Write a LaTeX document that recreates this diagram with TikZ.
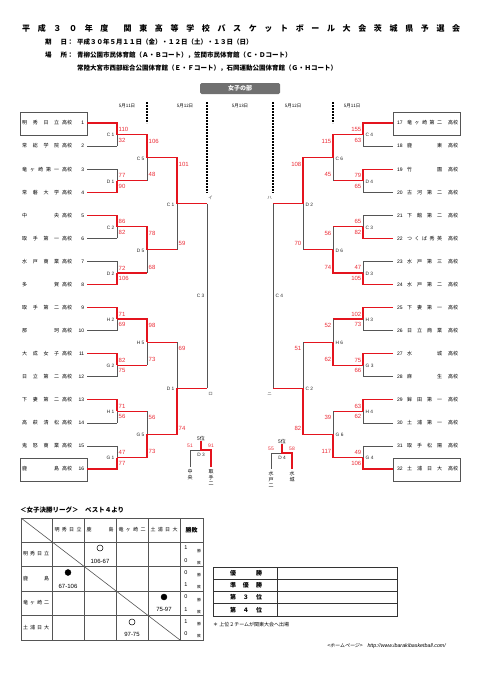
\documentclass[tikz,border=0pt]{standalone}
\usepackage{fontspec}
\setmainfont{Noto Sans CJK JP}
\newfontfamily\numfont{Liberation Sans}
\newfontfamily\slantjp[FakeSlant=0.2]{Noto Sans CJK JP}
\usetikzlibrary{calc}
\definecolor{winred}{RGB}{228,20,30}
\definecolor{scorered}{RGB}{236,45,55}
\definecolor{linegray}{RGB}{85,85,85}
\definecolor{bannergray}{RGB}{112,112,112}

\newcommand\bmatch[9]{%
  \ifnum#4=1
    \draw[#9] (#2) -- (#2 -| #3);
    \draw[lose] (#2 -| #3) -- (#3);
    \draw[win] (#1) -| (#3);
  \else
    \draw[#9] (#1) -- (#1 -| #3);
    \draw[lose] (#1 -| #3) -- (#3);
    \draw[win] (#2) -| (#3);
  \fi
  \ifnum#8>0 \def\sanc{west}\def\lanc{east}\else\def\sanc{east}\def\lanc{west}\fi
  \node[score,anchor=\sanc] (#3a) at ($(#3 |- #1)+(#8*1.2,6.5)$) {#5};
  \node[score,anchor=\sanc] (#3b) at ($(#3 |- #2)+(#8*1.2,-6)$) {#6};
  \node[game,anchor=\lanc] (#3g) at ($(#3)+(#8*-2,0.8)$) {#7};
}

\begin{document}
\begin{tikzpicture}[x=1pt,y=-1pt,
  win/.style={draw=winred,line width=1.2pt},
  lose/.style={draw=linegray,line width=0.6pt},
  score/.style={text=scorered,inner sep=0.3pt,font=\numfont\fontsize{6}{6}\selectfont},
  game/.style={text=black!85,inner sep=0.5pt,font=\numfont\fontsize{4.8}{5}\selectfont},
  team/.style={anchor=west,inner sep=0pt,font=\fontsize{5}{6}\selectfont},
  hdr/.style={anchor=west,inner sep=0pt,font=\bfseries\fontsize{6.5}{7}\selectfont},
  datelab/.style={inner sep=0pt,font=\fontsize{4.5}{5}\selectfont},
  daydash/.style={draw=black,line width=1.1pt,dash pattern=on 2pt off 1pt},
  boxline/.style={draw=linegray,line width=0.7pt},
  kana/.style={inner sep=0pt,text=black!70,font=\fontsize{4.5}{5}\selectfont},
  vlab/.style={anchor=north,inner sep=0pt,align=center,font=\fontsize{5}{6}\selectfont},
  cell/.style={inner sep=0pt,font=\fontsize{5}{6}\selectfont},
  grid/.style={draw=linegray,line width=0.6pt},
  rank/.style={draw=black!80,line width=0.9pt},
  rlab/.style={inner sep=0pt,font=\bfseries\fontsize{6}{7}\selectfont}]
\useasboundingbox (0,0) rectangle (481,680);
\fill[white] (0,0) rectangle (481,680);

\node[anchor=west,inner sep=0pt,font=\bfseries\fontsize{8}{9}\selectfont] (title) at (22,28)
  {\makebox[438pt][s]{平 成 ３ ０ 年 度\ \ 関 東 高 等 学 校 バ ス ケ ッ ト ボ ー ル 大 会 茨 城 県 予 選 会}};
\node[hdr] (dlab) at (45,42) {\makebox[22pt][s]{期 日}：};
\node[hdr] (dtxt) at (77,42) {平成３０年５月１１日（金）・１２日（土）・１３日（日）};
\node[hdr] (plab) at (45,55) {\makebox[22pt][s]{場 所}：};
\node[hdr] (ptxt) at (77,55) {青柳公園市民体育館（Ａ・Ｂコート），笠間市民体育館（Ｃ・Ｄコート）};
\node[hdr] (ptxt2) at (77,68) {常陸大宮市西部総合公園体育館（Ｅ・Ｆコート），石岡運動公園体育館（Ｇ・Ｈコート）};

\node[fill=bannergray,rounded corners=1.5pt,minimum width=80pt,minimum height=11pt,inner sep=0pt,
  text=white,font=\bfseries\fontsize{6}{7}\selectfont] (banner) at (240,88.5) {女子の部};
\foreach \x/\d [count=\n] in {127/11,185/12,240/13,293/12,352/11}
  \node[datelab] (day\n) at (\x,106) {5月\d{}日};
\draw[daydash] (147,102) -- (147,123);
\draw[daydash] (207,102) -- (207,193);
\draw[daydash] (273,102) -- (273,193);
\draw[daydash] (333,102) -- (333,123);

\draw[boxline] (20,112) rectangle (87,135);
\draw[boxline] (20,458) rectangle (87,481);
\draw[boxline] (393,112) rectangle (460,135);
\draw[boxline] (393,458) rectangle (460,481);

\foreach \k/\nm in {1/明 秀 日 立,2/常 総 学 院,3/竜 ヶ 崎 第 一,4/常 磐 大 学,5/中 央,6/取 手 第 一,
  7/水 戸 商 業,8/多 賀,9/取 手 第 二,10/那 珂,11/大 成 女 子,12/日 立 第 二,13/下 妻 第 二,
  14/高 萩 清 松,15/鬼 怒 商 業,16/鹿 島}
  \node[team] (lt\k) at (22,{123+(\k-1)*23.07})
    {\makebox[37pt][s]{\nm}\hspace{3pt}高校\makebox[12pt][r]{\numfont\k}};
\foreach \k/\nm [evaluate=\k as \n using int(\k+16)] in {1/竜 ヶ 崎 第 二,2/鹿 東,3/竹 園,4/古 河 第 二,
  5/下 館 第 二,6/つ く ば 秀 英,7/水 戸 第 三,8/水 戸 第 二,9/下 妻 第 一,10/日 立 商 業,11/水 城,
  12/麻 生,13/鉾 田 第 一,14/土 浦 第 一,15/取 手 松 陽,16/土 浦 日 大}
  \node[team] (rt\k) at (397,{123+(\k-1)*23.07})
    {\makebox[8pt][l]{\numfont\n}\hspace{2pt}\makebox[35pt][s]{\nm}\hspace{6pt}高校};

\foreach \k in {1,...,16} {
  \coordinate (L\k) at (87,{123+(\k-1)*23.07});
  \coordinate (R\k) at (393,{123+(\k-1)*23.07});
}
\foreach \i [evaluate=\i as \ua using int(2*\i-1), evaluate=\i as \ub using int(2*\i)] in {1,...,8} {
  \path ($(L\ua)!.5!(L\ub)$) ++(30,0) coordinate (La\i);
  \path ($(R\ua)!.5!(R\ub)$) ++(-30,0) coordinate (Ra\i);
}
\foreach \i [evaluate=\i as \ua using int(2*\i-1), evaluate=\i as \ub using int(2*\i)] in {1,...,4} {
  \path ($(La\ua)!.5!(La\ub)$) ++(30,0) coordinate (Lb\i);
  \path ($(Ra\ua)!.5!(Ra\ub)$) ++(-30,0) coordinate (Rb\i);
}
\foreach \i [evaluate=\i as \ua using int(2*\i-1), evaluate=\i as \ub using int(2*\i)] in {1,2} {
  \path ($(Lb\ua)!.5!(Lb\ub)$) ++(30,0) coordinate (Lc\i);
  \path ($(Rb\ua)!.5!(Rb\ub)$) ++(-30,0) coordinate (Rc\i);
}
\path ($(Lc1)!.5!(Lc2)$) ++(30,0) coordinate (Ld);
\path ($(Rc1)!.5!(Rc2)$) ++(-30,0) coordinate (Rd);

\foreach \i/\w/\sa/\sb/\g [evaluate=\i as \ua using int(2*\i-1), evaluate=\i as \ub using int(2*\i)] in
  {1/1/110/32/C 1,2/2/77/90/D 1,3/1/86/82/C 2,4/2/72/106/D 2,5/1/71/69/H 2,6/1/82/75/G 2,7/1/71/56/H 1,8/2/47/77/G 1}
  {\bmatch{L\ua}{L\ub}{La\i}{\w}{\sa}{\sb}{\g}{1}{lose}}
\foreach \i/\w/\sa/\sb/\g [evaluate=\i as \ua using int(2*\i-1), evaluate=\i as \ub using int(2*\i)] in
  {1/1/106/48/C 5,2/1/78/68/D 5,3/1/98/73/H 5,4/2/56/73/G 5}
  {\bmatch{La\ua}{La\ub}{Lb\i}{\w}{\sa}{\sb}{\g}{1}{win}}
\foreach \i/\w/\sa/\sb/\g [evaluate=\i as \ua using int(2*\i-1), evaluate=\i as \ub using int(2*\i)] in
  {1/1/101/59/C 1,2/2/69/74/D 1}
  {\bmatch{Lb\ua}{Lb\ub}{Lc\i}{\w}{\sa}{\sb}{\g}{1}{win}}

\foreach \i/\w/\sa/\sb/\g [evaluate=\i as \ua using int(2*\i-1), evaluate=\i as \ub using int(2*\i)] in
  {1/1/155/63/C 4,2/1/79/65/D 4,3/2/65/82/C 3,4/2/47/105/D 3,5/1/102/73/H 3,6/1/75/66/G 3,7/1/63/62/H 4,8/2/49/106/G 4}
  {\bmatch{R\ua}{R\ub}{Ra\i}{\w}{\sa}{\sb}{\g}{-1}{lose}}
\foreach \i/\w/\sa/\sb/\g [evaluate=\i as \ua using int(2*\i-1), evaluate=\i as \ub using int(2*\i)] in
  {1/1/115/45/C 6,2/2/56/74/D 6,3/2/52/62/H 6,4/2/39/117/G 6}
  {\bmatch{Ra\ua}{Ra\ub}{Rb\i}{\w}{\sa}{\sb}{\g}{-1}{win}}
\foreach \i/\w/\sa/\sb/\g [evaluate=\i as \ua using int(2*\i-1), evaluate=\i as \ub using int(2*\i)] in
  {1/1/108/70/D 2,2/2/51/82/C 2}
  {\bmatch{Rb\ua}{Rb\ub}{Rc\i}{\w}{\sa}{\sb}{\g}{-1}{win}}

\draw[lose] (Lc1 -| Ld) -- (Lc2 -| Ld);
\draw[win] (Lc1) -- (Lc1 -| Ld);
\draw[win] (Lc2) -- (Lc2 -| Ld);
\node[game,anchor=east] (Ldg) at ($(Ld)+(-2,0)$) {C 3};
\node[kana] (Lk1) at ($(Lc1 -| Ld)+(3.5,-6)$) {イ};
\node[kana] (Lk2) at ($(Lc2 -| Ld)+(3.5,6)$) {ロ};
\draw[lose] (Rc1 -| Rd) -- (Rc2 -| Rd);
\draw[win] (Rc1) -- (Rc1 -| Rd);
\draw[win] (Rc2) -- (Rc2 -| Rd);
\node[game,anchor=west] (Rdg) at ($(Rd)+(2,0)$) {C 4};
\node[kana] (Rk1) at ($(Rc1 -| Rd)+(-3.5,-6)$) {ハ};
\node[kana] (Rk2) at ($(Rc2 -| Rd)+(-3.5,6)$) {ニ};

\node[cell] (p5L) at (201,439) {5位};
\coordinate (p5Lc) at (201,450);
\coordinate (p5La) at (190,467);
\coordinate (p5Lb) at (211,467);
\draw[lose] (p5La) |- (p5Lc);
\draw[win] (p5Lb) |- (p5Lc) -- (p5L);
\node[score,font=\numfont\fontsize{5}{5}\selectfont] (p5Ls1) at (190,446) {51};
\node[score,font=\numfont\fontsize{5}{5}\selectfont] (p5Ls2) at (211,446) {91};
\node[game] (p5Lg) at (201,455) {D 3};
\node[vlab] (p5Ln1) at (190,469) {中\\央};
\node[vlab] (p5Ln2) at (211,469) {取\\手\\二};

\node[cell] (p5R) at (282,442) {5位};
\coordinate (p5Rc) at (282,453);
\coordinate (p5Ra) at (271,469);
\coordinate (p5Rb) at (292,469);
\draw[lose] (p5Ra) |- (p5Rc);
\draw[win] (p5Rb) |- (p5Rc) -- (p5R);
\node[score,font=\numfont\fontsize{5}{5}\selectfont] (p5Rs1) at (271,449) {55};
\node[score,font=\numfont\fontsize{5}{5}\selectfont] (p5Rs2) at (292,449) {58};
\node[game] (p5Rg) at (282,458) {D 4};
\node[vlab] (p5Rn1) at (271,471) {水\\戸\\二};
\node[vlab] (p5Rn2) at (292,471) {水\\城};

\node[hdr] (lgtitle) at (20,510) {＜女子決勝リーグ＞　ベスト４より};
\draw[grid] (21,518) rectangle (203,640);
\foreach \x in {52,84,116,148,180} \draw[grid] (\x,518) -- (\x,640);
\foreach \y in {542,566.5,591,615.5} \draw[grid] (21,\y) -- (203,\y);
\draw[grid] (21,518) -- (180,640);
\foreach \x/\nm [count=\n] in {68/明 秀 日 立,100/鹿 島,132/竜 ヶ 崎 二,164/土 浦 日 大}
  \node[cell] (colh\n) at (\x,530) {\makebox[27pt][s]{\nm}};
\foreach \y/\nm [count=\n] in {554/明 秀 日 立,578.5/鹿 島,603/竜 ヶ 崎 二,628/土 浦 日 大}
  \node[cell,anchor=west] (rowh\n) at (23,\y) {\makebox[26pt][s]{\nm}};
\node[rlab] (wlh) at (191.5,530) {勝敗};
\foreach \y/\w/\l [count=\n] in {542/1/0,566.5/0/1,591/0/1,615.5/1/0} {
  \node[cell,font=\numfont\fontsize{5.5}{6}\selectfont] (wn\n) at (186,{\y+6}) {\w};
  \node[cell,font=\fontsize{3.8}{4}\selectfont] (ws\n) at (199,{\y+9}) {勝};
  \node[cell,font=\numfont\fontsize{5.5}{6}\selectfont] (ln\n) at (186,{\y+18.5}) {\l};
  \node[cell,font=\fontsize{3.8}{4}\selectfont] (ls\n) at (199,{\y+21}) {敗};
}
\node[circle,draw,minimum size=6pt,inner sep=0pt,line width=0.5pt] (m12) at (100,548) {};
\node[cell,font=\numfont\fontsize{6}{6}\selectfont] (m12s) at (100,561) {106-67};
\node[circle,draw,fill=black,minimum size=6pt,inner sep=0pt] (m21) at (68,572.5) {};
\node[cell,font=\numfont\fontsize{6}{6}\selectfont] (m21s) at (68,586) {67-106};
\node[circle,draw,fill=black,minimum size=6pt,inner sep=0pt] (m34) at (164,597) {};
\node[cell,font=\numfont\fontsize{6}{6}\selectfont] (m34s) at (164,609.5) {75-97};
\node[circle,draw,minimum size=6pt,inner sep=0pt,line width=0.5pt] (m43) at (132,622) {};
\node[cell,font=\numfont\fontsize{6}{6}\selectfont] (m43s) at (132,634.5) {97-75};

\draw[rank] (213,567) rectangle (397,616);
\draw[rank] (277,567) -- (277,616);
\foreach \y in {579.25,591.5,603.75} \draw[rank] (213,\y) -- (397,\y);
\foreach \y/\t [count=\n] in {573.1/優 勝,585.4/準 優 勝,597.6/第 ３ 位,609.9/第 ４ 位}
  \node[rlab] (rk\n) at (246,\y) {\makebox[32pt][s]{\t}};
\node[anchor=west,inner sep=0pt,font=\fontsize{5}{6}\selectfont] (note) at (213,625) {＊ 上位２チームが関東大会へ出場};
\node[anchor=west,inner sep=0pt] (home) at (327,646)
  {{\slantjp\fontsize{5}{6}\selectfont <ホームページ>}\hspace{5pt}{\numfont\itshape\fontsize{5.3}{6}\selectfont http://www.ibarakibasketball.com/}};
\end{tikzpicture}
\end{document}
